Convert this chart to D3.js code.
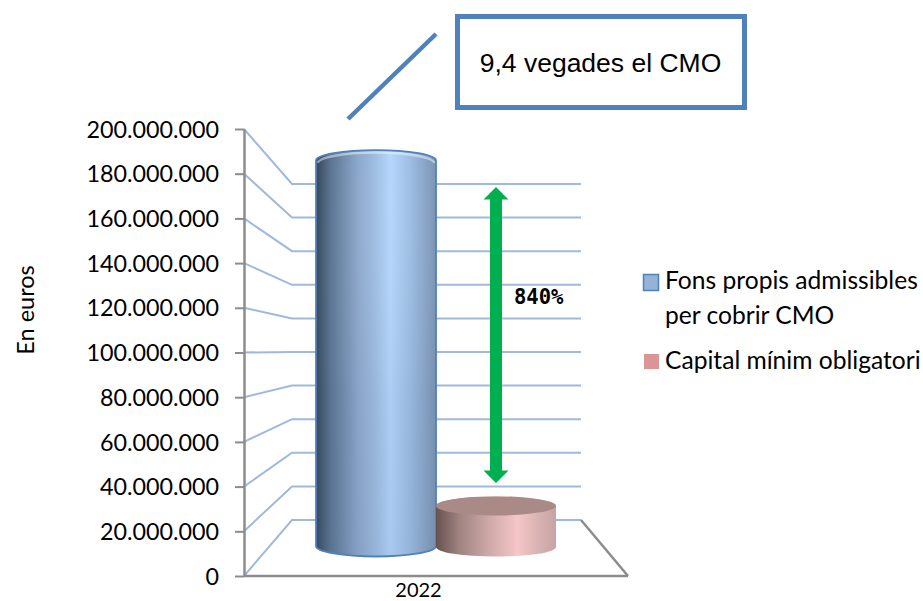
<!DOCTYPE html>
<html><head><meta charset="utf-8">
<script src="https://cdn.jsdelivr.net/npm/d3@7/dist/d3.min.js"></script>
<style>html,body{margin:0;padding:0;background:#fff;overflow:hidden}svg{display:block}</style>
</head><body><svg id="c" width="923" height="601"></svg>
<script>
const categories = ["2022"];
const seriesNames = ["Fons propis admissibles per cobrir CMO", "Capital mínim obligatori"];
const seriesValues = [197400000, 21000000];
const tickValues = [0,20000000,40000000,60000000,80000000,100000000,120000000,140000000,160000000,180000000,200000000];
const calloutText = "9,4 vegades el CMO";
const arrowText = "840%";
const axisTitle = "En euros";

const svg = d3.select("#c");
const defs = svg.append("defs");
const locale = d3.formatLocale({decimal:",",thousands:".",grouping:[3],currency:["","€"]});
const fmt = locale.format(",d");
const SANS = "Lato, 'Open Sans', sans-serif";

const yFront = d3.scaleLinear().domain([0,200000000]).range([576,129]);
const yBack  = d3.scaleLinear().domain([0,200000000]).range([520,184]);
const yMid   = d3.scaleLinear().domain([0,200000000]).range([547,155.5]);
const xBand  = d3.scaleBand().domain(seriesNames).range([316,556]).padding(0);
const xCat   = d3.scaleBand().domain(categories).range([209,628]);
const xFront=244, xBack=292, xBackEnd=581, xFrontEnd=628;

function grad(id,stops){
  const g=defs.append("linearGradient").attr("id",id).attr("x1",0).attr("x2",1).attr("y1",0).attr("y2",0);
  stops.forEach(s=>g.append("stop").attr("offset",s[0]).attr("stop-color",s[1]));
}
grad("gBlue",[[0,"#33465a"],[0.12,"#5a7391"],[0.35,"#8ca8cb"],[0.5,"#a0bfe3"],[0.62,"#b6d6fd"],[0.8,"#9bbbe0"],[1,"#7a93b2"]]);
grad("gPink",[[0,"#665250"],[0.2,"#a08582"],[0.45,"#cfaaa9"],[0.68,"#f5c6c6"],[0.85,"#d9b3b3"],[1,"#c8a3a3"]]);
const fade=defs.append("linearGradient").attr("id","gFade").attr("x1",0).attr("x2",0).attr("y1",0).attr("y2",1);
fade.append("stop").attr("offset",0).attr("stop-color","#fff").attr("stop-opacity",0);
fade.append("stop").attr("offset",0.6).attr("stop-color","#506a90").attr("stop-opacity",0.08);
fade.append("stop").attr("offset",1).attr("stop-color","#506a90").attr("stop-opacity",0.12);

const grid=svg.append("g");
grid.selectAll("path").data(tickValues).join("path")
  .attr("fill","none").attr("stroke","#9fb9dc").attr("stroke-width",2)
  .attr("d",d=>d3.line()([[xFront,yFront(d)],[xBack,yBack(d)],[xBackEnd,yBack(d)]]));

svg.append("path").attr("fill","none").attr("stroke","#8c8c8c").attr("stroke-width",2.5)
  .attr("d",d3.line()([[xBackEnd,yBack(0)],[xFrontEnd,yFront(0)]]));

const axis=d3.axisLeft(yFront).tickValues(tickValues).tickFormat(fmt).tickSize(9).tickPadding(16).tickSizeOuter(0);
const ax=svg.append("g").attr("transform",`translate(${xFront},0)`).call(axis);
ax.select(".domain").attr("stroke","#8c8c8c").attr("stroke-width",2.5);
ax.selectAll(".tick line").attr("stroke","#8c8c8c").attr("stroke-width",2);
ax.selectAll(".tick text").attr("font-family",SANS).attr("font-size",23.3).attr("fill","#000").attr("dy","0.35em");

svg.append("line").attr("x1",xFront).attr("x2",xFrontEnd).attr("y1",yFront(0)).attr("y2",yFront(0))
  .attr("stroke","#8c8c8c").attr("stroke-width",2.5);

svg.append("text").selectAll("tspan").data(categories).join("tspan")
  .attr("x",d=>xCat(d)+xCat.bandwidth()/2).attr("y",597).attr("text-anchor","middle")
  .attr("font-family",SANS).attr("font-size",20).attr("fill","#000").text(d=>d);

const ry=[10.5,9.5];
const fills=["url(#gBlue)","url(#gPink)"];
seriesNames.forEach((n,i)=>{
  const x0=xBand(n), w=xBand.bandwidth(), x1=x0+w, rx=w/2;
  const top=yMid(seriesValues[i]), base=yMid(0)-(i===0?1:0), r=ry[i];
  const outline=`M${x0},${top}A${rx},${r} 0 0 1 ${x1},${top}L${x1},${base}A${rx},${r} 0 0 1 ${x0},${base}Z`;
  svg.append("path").attr("d",outline).attr("fill",fills[i]);
  if(i===0){
    svg.append("path").attr("d",outline).attr("fill","url(#gFade)");
    svg.append("path").attr("d",`M${x0+2},${top+2.5}A${rx-2},${r} 0 0 1 ${x1-2},${top+2.5}`)
      .attr("fill","none").attr("stroke","#fff").attr("stroke-opacity",0.45).attr("stroke-width",2.5);
    svg.append("path").attr("d",outline).attr("fill","none").attr("stroke","#4f81bd").attr("stroke-width",1.8);
  } else {
    svg.append("ellipse").attr("cx",x0+rx).attr("cy",top).attr("rx",rx).attr("ry",r)
      .attr("fill","#a98a86");
  }
});

const ax0=496, tipT=187, tipB=483, hh=12.5, hw=12.5, sw=6;
svg.append("path").attr("fill","#00b050").attr("d",d3.line()([
  [ax0,tipT],[ax0+hw,tipT+hh],[ax0+sw,tipT+hh],[ax0+sw,tipB-hh],[ax0+hw,tipB-hh],[ax0,tipB],
  [ax0-hw,tipB-hh],[ax0-sw,tipB-hh],[ax0-sw,tipT+hh],[ax0-hw,tipT+hh]])+"Z");
svg.append("text").attr("x",514).attr("y",304).attr("font-family","'DejaVu Sans Mono',monospace")
  .attr("font-weight","bold").attr("font-size",20.5).attr("fill","#000").text(arrowText);

svg.append("line").attr("x1",436).attr("y1",34).attr("x2",348).attr("y2",119).attr("stroke","#4f81bd").attr("stroke-width",4.5);
svg.append("rect").attr("x",457.5).attr("y",16.5).attr("width",287).attr("height",91)
  .attr("fill","#fff").attr("stroke","#4f81bd").attr("stroke-width",5);
svg.append("text").attr("x",600.5).attr("y",72).attr("text-anchor","middle")
  .attr("font-family","'Liberation Sans',Arial,sans-serif").attr("font-size",26.5).attr("fill","#000").text(calloutText);

svg.append("text").attr("transform","translate(34,310) rotate(-90)").attr("text-anchor","middle")
  .attr("font-family",SANS).attr("font-size",23.5).attr("fill","#000").text(axisTitle);

svg.append("rect").attr("x",643.5).attr("y",274.5).attr("width",15).attr("height",16)
  .attr("fill","#95b3d7").attr("stroke","#4f81bd").attr("stroke-width",1.5);
svg.append("rect").attr("x",644).attr("y",354).attr("width",15).attr("height",15).attr("fill","#d99694");
const legend=svg.append("g").attr("font-family",SANS).attr("font-size",24.6).attr("fill","#000");
const words=seriesNames[0].split(" ");
legend.append("text").attr("x",665).attr("y",289).text(words.slice(0,3).join(" "));
legend.append("text").attr("x",665).attr("y",324).text(words.slice(3).join(" "));
legend.append("text").attr("x",665).attr("y",369).text(seriesNames[1]);
</script></body></html>
